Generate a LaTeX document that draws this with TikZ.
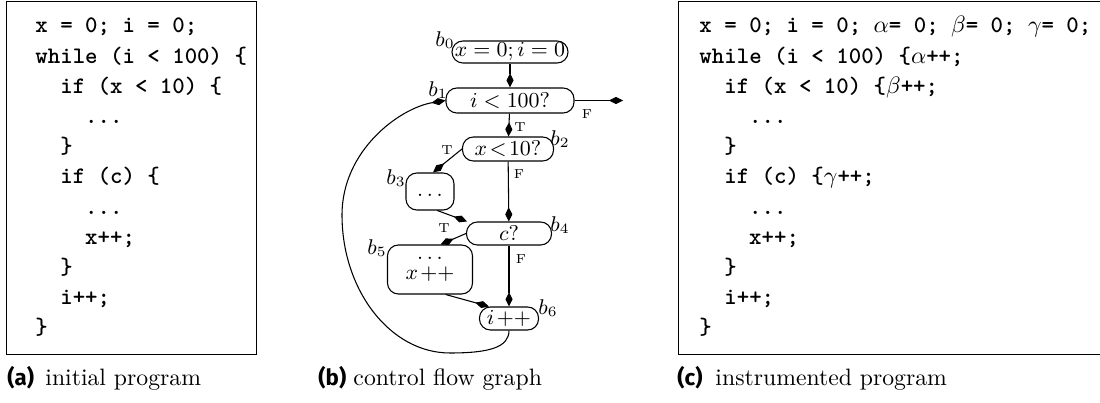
\documentclass[tikz,border=0pt]{standalone}
\usepackage{fontspec}
\newfontfamily\capfont{Fira Sans}
\newfontfamily\codefont{lmmonolt10-bold}[Extension=.otf]
\usetikzlibrary{arrows.meta}
\newcommand\pxu{0.4219pt}
\tikzset{
  code/.style={anchor=base west, inner sep=0pt, font=\codefont\fontsize{10}{12}\selectfont},
  blk/.style={draw, rounded corners=4.6pt, inner sep=0pt, line width=0.45pt, font=\fontsize{9.2}{11}\selectfont},
  blab/.style={inner sep=0pt, font=\fontsize{9.2}{11}\selectfont},
  tf/.style={inner sep=0pt, font=\fontsize{5.5}{6}\selectfont},
  flow/.style={line width=0.45pt, -{Kite[length=6pt,width=3pt,inset=3pt]}},
  panelbox/.style={draw, line width=0.45pt},
  captag/.style={anchor=base west, inner sep=0pt, font=\capfont\bfseries\fontsize{9.4}{11}\selectfont},
  captxt/.style={anchor=base west, inner sep=0pt, font=\fontsize{10}{12}\selectfont},
}
\begin{document}
\begin{tikzpicture}[x=0.4219pt, y=-0.4219pt]
\useasboundingbox (0,0) rectangle (1100,403);

% ---- panel (a)
\draw[panelbox] (6.7,1.7) rectangle (256.7,354.3);
\foreach \lv/\txt [count=\i] in {0/{x = 0; i = 0;}, 0/{while (i < 100) \{}, 2/{if (x < 10) \{}, 4/{...}, 2/{\}}, 2/{if (c) \{}, 4/{...}, 4/{x++;}, 2/{\}}, 2/{i++;}, 0/{\}}}
  \node[code] (pa\i) at ({35+12.44*\lv}, {33+30.2*(\i-1)}) {\txt};

% ---- panel (c)
\draw[panelbox] (1110,1.7) -- (678.3,1.7) -- (678.3,354.3) -- (1110,354.3);
\foreach \lv/\txt [count=\i] in {0/{x = 0; i = 0; $\alpha$= 0; $\beta$= 0; $\gamma$= 0;}, 0/{while (i < 100) \{$\alpha$++;}, 2/{if (x < 10) \{$\beta$++;}, 4/{...}, 2/{\}}, 2/{if (c) \{$\gamma$++;}, 4/{...}, 4/{x++;}, 2/{\}}, 2/{i++;}, 0/{\}}}
  \node[code] (pc\i) at ({699+12.44*\lv}, {33+30.2*(\i-1)}) {\txt};

% ---- panel (b): control flow graph
\node[blk, minimum width=116*\pxu, minimum height=22*\pxu] (b0) at (510,52) {$x=0;i=0$};
\node[blk, minimum width=128*\pxu, minimum height=25*\pxu] (b1) at (510,100.5) {$i<100?$};
\node[blk, minimum width=91*\pxu, minimum height=24*\pxu] (b2) at (508,149) {$x\!<\!10?$};
\node[blk, minimum width=48*\pxu, minimum height=37*\pxu] (b3) at (430,191.5) {\strut$\ldots$};
\node[blk, minimum width=85*\pxu, minimum height=23*\pxu] (b4) at (509,233.5) {$c?$};
\node[blk, minimum width=85*\pxu, minimum height=49*\pxu, align=center] (b5) at (430,269.5) {$\ldots$\\[-2.5pt]$x\mkern2mu{+}{+}$};
\node[blk, minimum width=59*\pxu, minimum height=23*\pxu] (b6) at (509,318.5) {$i\mkern2mu{+}{+}$};

\node[blab] (lb0) at (445,40) {$b_0$};
\node[blab] (lb1) at (438,90) {$b_1$};
\node[blab] (lb2) at (560,139) {$b_2$};
\node[blab] (lb3) at (396,178) {$b_3$};
\node[blab] (lb4) at (560,225) {$b_4$};
\node[blab] (lb5) at (377,248) {$b_5$};
\node[blab] (lb6) at (548,308) {$b_6$};

\node[tf] (f1) at (587,114) {F};
\node[tf] (t1) at (520,127) {T};
\node[tf] (t2) at (447,150) {T};
\node[tf] (f2) at (519,174) {F};
\node[tf] (t3) at (444,228) {T};
\node[tf] (f3) at (521,259) {F};

\coordinate (exit) at (623,100.5);
\coordinate (lp1) at (450,353);
\coordinate (lp2) at (342,215);

\draw[flow] (b0) -- (b1);
\draw[flow] (b1.east) -- (exit);
\draw[flow] (b1) -- (b2);
\draw[flow] (b2.west) -- (b3.81);
\draw[flow] (b2) -- (b4);
\draw[flow] (b3.-69) -- (b4.164);
\draw[flow] (b4.west) -- (b5.67);
\draw[flow] (b4) -- (b6);
\draw[flow] (b5.-58) -- (b6.149);
\draw[flow] (b6.south) .. controls (509,347) and (490,353) .. (lp1)
  .. controls (390,353) and (342,290) .. (lp2)
  .. controls (342,150) and (400,108) .. (b1.west);

% ---- captions
\node[captag] (ca) at (7,386) {(a)};
\node[captxt] (cat) at (45,386) {initial program};
\node[captag] (cb) at (318,386) {(b)};
\node[captxt] (cbt) at (353,386) {control flow graph};
\node[captag] (cc) at (677,386) {(c)};
\node[captxt] (cct) at (715,386) {instrumented program};
\end{tikzpicture}
\end{document}
